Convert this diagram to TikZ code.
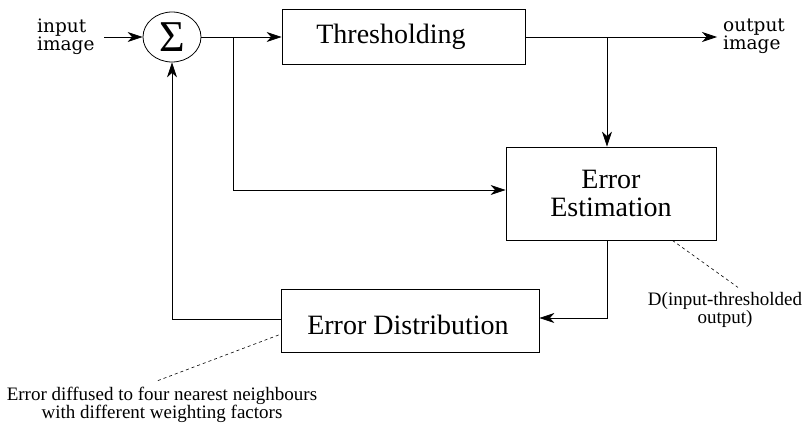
\documentclass[tikz,border=0pt]{standalone}
\usepackage{fontspec}
\setmainfont{Liberation Serif}
\newfontfamily\widefont{DejaVu Serif}
\usetikzlibrary{arrows.meta,shapes.geometric}
\begin{document}
\begin{tikzpicture}[x=1pt,y=-1pt,
  box/.style={draw,line width=0.8pt,inner sep=0pt},
  ln/.style={line width=0.8pt},
  arr/.style={line width=0.8pt,-{Stealth[length=15pt,width=10pt,inset=4.5pt]}},
  dsh/.style={line width=0.6pt,dash pattern=on 3pt off 3pt},
  big/.style={inner sep=0pt,font=\fontsize{28}{28}\selectfont},
  io/.style={inner sep=0pt,align=left,font=\widefont\fontsize{18.5}{15}\selectfont},
  note/.style={inner sep=0pt,align=center,font=\fontsize{19}{17.5}\selectfont}]
\useasboundingbox (0,0) rectangle (805,423);
% summing junction
\node[draw,ellipse,line width=0.8pt,minimum width=58pt,minimum height=50pt,inner sep=0pt,font=\fontsize{44}{44}\selectfont] (sum) at (172,37) {Σ};
% boxes
\node[box,minimum width=243pt,minimum height=55pt] (thr) at (403.5,36.5) {};
\node[big,anchor=base] (thrtxt) at (391,43) {Thresholding};
\node[box,minimum width=210pt,minimum height=93pt,align=center,font=\fontsize{28}{28}\selectfont] (ee) at (611,193.5) {Error\\Estimation};
\node[box,minimum width=258pt,minimum height=63pt] (ed) at (410,320.5) {};
\node[big,anchor=base] (edtxt) at (408,334) {Error Distribution};
% labels
\node[io,anchor=west] (inlab) at (37,36.5) {input\\image};
\node[io,anchor=west] (outlab) at (723,36) {output\\image};
\node[note] (dlab) at (725,310) {D(input-thresholded\\output)};
\node[note] (blab) at (162,405) {Error diffused to four nearest neighbours\\with different weighting factors};
% helper coordinates
\coordinate (in) at (104,37);
\coordinate (out) at (717,37);
\coordinate (b1) at (233,37);
\coordinate (b2) at (607,37);
\coordinate (b3) at (607,240);
% connectors
\draw[arr] (in) -- (sum.west);
\draw[arr] (sum.east) -- (thr.west |- sum.east);
\draw[arr] (b1) -- (233,190) -- (ee.west |- 0,190);
\draw[arr] (thr.east |- out) -- (out);
\draw[arr] (b2) -- (b2 |- ee.north);
\draw[arr] (b3) -- (607,318) -- (ed.east |- 0,318);
\draw[arr] (ed.west |- 0,319) -- (172,319) -- (sum.south);
% dashed pointers
\draw[dsh] (ee.south east) ++(-44pt,0) -- ([xshift=13pt,yshift=5pt]dlab.north);
\draw[dsh] (ed.west) ++(-2pt,-14.5pt) -- ([xshift=-6pt,yshift=6pt]blab.north);
\end{tikzpicture}
\end{document}
